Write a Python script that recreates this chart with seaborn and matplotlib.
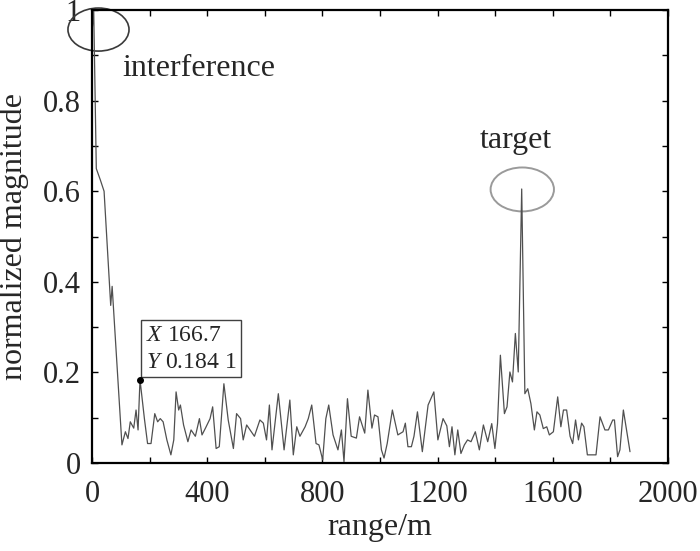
import numpy as np
import pandas as pd
import seaborn as sns
import matplotlib
matplotlib.use("Agg")
import matplotlib.pyplot as plt
from matplotlib.patches import Ellipse
from matplotlib.ticker import MultipleLocator, FuncFormatter

# values (range in m, normalized magnitude)
range_m = [
    0, 6, 15, 29, 42, 65, 70,
    104, 116, 125, 133, 145, 153, 160, 166.7, 182, 193, 205, 218, 228, 237, 247, 260, 274, 284, 292, 301,
    307, 318, 333, 344, 359, 373, 382, 394, 410,
    419, 431, 442, 458, 473, 491, 502, 516, 525, 537, 549, 564, 583, 595, 606, 616, 625, 647, 667, 687,
    699, 711, 722, 740, 751, 763, 778, 788, 801, 812, 822,
    837, 854, 866, 875, 887, 900, 918, 929, 947, 958, 972, 981, 993, 1005, 1014, 1025, 1043, 1062, 1080, 1088,
    1097, 1109, 1118, 1130, 1147, 1167, 1187, 1201, 1219, 1232,
    1241, 1250, 1260, 1270, 1281, 1293, 1304, 1316, 1331, 1345, 1359, 1374, 1388, 1399, 1408, 1418, 1432, 1441,
    1451, 1460, 1470, 1480, 1492, 1503, 1513, 1524, 1536, 1545, 1555, 1567, 1579, 1588, 1602, 1617, 1628, 1637,
    1648, 1660, 1669, 1679, 1689, 1700, 1708, 1720, 1735, 1750, 1764, 1781, 1793, 1808, 1814, 1825, 1833, 1845,
    1856, 1868,
]
magnitude = [
    0.95, 1.0, 0.65, 0.625, 0.60, 0.348, 0.39,
    0.040, 0.069, 0.054, 0.091, 0.077, 0.117, 0.073, 0.1841, 0.098, 0.043, 0.043, 0.109, 0.091, 0.098, 0.091,
    0.051, 0.018, 0.051, 0.157, 0.117, 0.128, 0.084, 0.047, 0.073, 0.059, 0.098, 0.062, 0.077, 0.098,
    0.124, 0.032, 0.036, 0.175, 0.095, 0.032, 0.109, 0.098, 0.051, 0.084, 0.073, 0.059, 0.095, 0.088, 0.051,
    0.128, 0.029, 0.153, 0.029, 0.139, 0.018, 0.080, 0.059, 0.080, 0.098, 0.128, 0.043, 0.040, 0.007, 0.098, 0.128,
    0.062, 0.029, 0.073, 0.003, 0.142, 0.059, 0.055, 0.102, 0.066, 0.161, 0.077, 0.106, 0.102, 0.029, 0.011,
    0.043, 0.117, 0.062, 0.069, 0.088, 0.036, 0.036, 0.059, 0.113, 0.025, 0.128, 0.157, 0.051, 0.098, 0.082,
    0.036, 0.080, 0.018, 0.073, 0.021, 0.040, 0.051, 0.047, 0.069, 0.029, 0.084, 0.047, 0.087, 0.032, 0.087,
    0.238, 0.109, 0.124, 0.201, 0.179, 0.286, 0.201, 0.605, 0.153, 0.164, 0.131, 0.073, 0.113, 0.106, 0.076,
    0.080, 0.062, 0.069, 0.146, 0.080, 0.117,
    0.117, 0.059, 0.043, 0.095, 0.051, 0.088, 0.080, 0.018, 0.018, 0.018, 0.102, 0.073, 0.073, 0.095, 0.095,
    0.014, 0.029, 0.117, 0.073, 0.025,
]

tip_x, tip_y = 166.7, 0.1841

sns.set_style("ticks")
plt.rcParams["font.family"] = ["Liberation Serif", "DejaVu Serif"]
plt.rcParams["mathtext.fontset"] = "custom"
plt.rcParams["mathtext.rm"] = "Liberation Serif"
plt.rcParams["mathtext.it"] = "Liberation Serif:italic"

df = pd.DataFrame({"range": range_m, "mag": magnitude})

fig = plt.figure(figsize=(7, 5.51), dpi=100)
ax = fig.add_axes([0.1314, 0.1597, 0.8229, 0.822])
sns.lineplot(data=df, x="range", y="mag", ax=ax, color="#505050", lw=0.9,
             estimator=None, sort=False)

ax.set_xlim(0, 2000)
ax.set_ylim(0, 1)
ax.xaxis.set_major_locator(MultipleLocator(400))
ax.xaxis.set_minor_locator(MultipleLocator(200))
ax.yaxis.set_major_locator(MultipleLocator(0.2))
ax.yaxis.set_minor_locator(MultipleLocator(0.1))
ax.yaxis.set_major_formatter(FuncFormatter(
    lambda v, p: "0" if abs(v) < 1e-9 else ("1" if abs(v - 1) < 1e-9 else f"{v:.1f}")))
ax.tick_params(which="both", direction="in", top=True, right=True, length=4.5,
               width=1.0, color="black")
ax.tick_params(axis="y", which="major", labelsize=22, pad=8)
ax.tick_params(axis="x", which="major", labelsize=22, pad=12)
for s in ax.spines.values():
    s.set_linewidth(1.6)
    s.set_color("black")

ax.set_xlabel("range/m", fontsize=23, labelpad=3)
ax.set_ylabel("normalized magnitude", fontsize=23, labelpad=10)

# interference marker
ax.add_patch(Ellipse((22.6, 0.957), 212, 0.095, fill=False, ec="#3a3a3a", lw=1.2,
                     clip_on=False))
ax.text(104, 0.872, "interference", fontsize=23, ha="left", va="center")

# target marker
ax.add_patch(Ellipse((1494, 0.604), 220, 0.097, fill=False, ec="#9a9a9a", lw=1.4))
ax.text(1472, 0.711, "target", fontsize=23, ha="center", va="center")

# data tip
ax.plot([tip_x], [tip_y], "o", color="black", ms=4, zorder=5)
ax.annotate("$\\mathit{X}$ 166.7\n$\\mathit{Y}$ 0.184 1", xy=(tip_x, tip_y),
            xytext=(4, 5), textcoords="offset points", ha="left", va="bottom",
            fontsize=17, linespacing=1.35,
            bbox=dict(boxstyle="square,pad=0.2", fc="white", ec="#404040", lw=1.0))

fig.savefig("out.png", dpi=100)
